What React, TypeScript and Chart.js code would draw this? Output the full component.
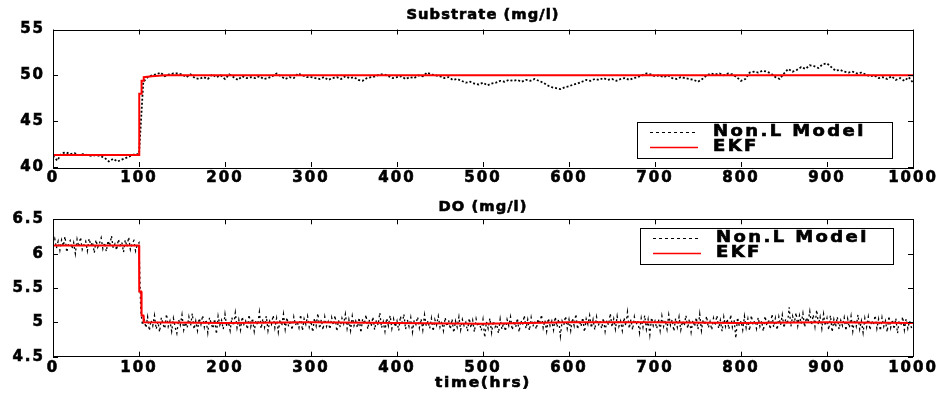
import React, { useEffect, useRef } from "react";
import { Chart, registerables } from "chart.js";
Chart.register(...registerables);

const FONT = "'DejaVu Sans', 'Liberation Sans', sans-serif";

// ---------- DATA ----------
const xMin = 0;
const xMax = 1000;
const xStep = 100;

// Substrate (mg/l) – non-linear model output, one reading every 5 hrs (0..1000)
const subStepHrs = 5;
const subModel = [
  41.2, 40.7, 41.5, 41.6, 41.4, 41.5, 41.3, 41.4, 41.3, 41.2, 41.3, 41.2, 41.0, 40.6, 40.9, 40.6, 40.8, 41.0, 41.2, 41.4, 41.4,
  49.3, 49.8, 50.0, 50.1, 50.3, 49.9, 50.1, 50.2, 50.2, 50.1, 49.8, 50.1, 49.7, 49.6, 49.8, 49.6, 50.1, 49.8, 50.0, 49.6,
  50.1, 49.8, 49.5, 49.9, 49.7, 49.8, 49.7, 49.9, 49.6, 49.7, 49.9, 50.2, 49.9, 49.6, 49.8, 49.7, 50.2, 50.0, 49.8, 49.8,
  49.7, 49.6, 49.8, 49.5, 49.7, 49.8, 49.6, 49.9, 49.7, 49.8, 49.5, 49.4, 49.7, 49.8, 49.9, 50.1, 50.1, 49.9, 49.7, 49.8,
  49.9, 49.6, 49.8, 49.7, 50.0, 49.9, 50.3, 50.1, 50.0, 49.9, 49.7, 49.8, 49.5, 49.6, 49.4, 49.2, 49.3, 49.1, 49.0, 49.2,
  48.9, 49.1, 49.2, 49.4, 49.3, 49.5, 49.4, 49.5, 49.3, 49.5, 49.4, 49.6, 49.4, 49.2, 48.9, 48.7, 48.6, 48.5, 48.7, 48.8,
  49.0, 49.1, 49.3, 49.5, 49.4, 49.6, 49.5, 49.7, 49.5, 49.6, 49.4, 49.6, 49.7, 49.5, 49.7, 49.8, 50.0, 50.2, 50.1, 49.9,
  50.0, 49.8, 50.0, 49.7, 49.6, 49.8, 49.7, 49.6, 49.5, 49.3, 49.6, 50.0, 50.2, 50.1, 50.2, 50.0, 50.2, 50.1, 49.8, 49.4,
  49.6, 50.3, 50.4, 50.3, 50.5, 50.4, 50.2, 49.8, 49.6, 50.2, 50.7, 50.4, 50.6, 50.9, 50.7, 51.1, 51.0, 50.8, 51.2, 51.3,
  50.9, 50.5, 50.6, 50.4, 50.3, 50.4, 50.2, 50.3, 50.1, 49.9, 50.0, 49.7, 49.8, 49.6, 49.9, 49.5, 49.7, 49.4, 49.8, 49.2,
];

// Substrate – EKF estimate (time, value)
const subEkfTime = [0, 100, 100.3, 102.5, 103, 105, 105.5, 115, 130, 1000];
const subEkfValue = [41.3, 41.3, 48.0, 48.0, 49.4, 49.4, 49.8, 49.9, 50.0, 50.0];

// DO (mg/l) – non-linear model output, one reading every 2 hrs (0..1000)
const doStepHrs = 2;
const doModel = [
  6.15, 6.22, 6.08, 6.18, 6.05, 6.20, 6.11, 6.25, 6.02, 6.14,
  6.19, 6.07, 6.16, 6.00, 6.21, 6.10, 6.24, 6.06, 6.13, 6.18,
  6.04, 6.22, 6.12, 6.17, 6.01, 6.20, 6.09, 6.15, 6.23, 6.07,
  6.16, 6.03, 6.19, 6.11, 6.26, 6.08, 6.14, 6.05, 6.21, 6.12,
  6.17, 6.02, 6.20, 6.10, 6.24, 6.06, 6.15, 6.19, 6.04, 6.13,
  6.16, 5.18, 4.96,
  5.05, 4.92, 5.08, 4.88, 5.03, 4.95, 5.10, 4.90, 5.01, 4.86,
  5.07, 4.97, 4.91, 5.12, 4.94, 5.02, 4.87, 5.06, 4.93, 4.84,
  5.04, 4.96, 5.11, 4.89, 5.00, 4.92, 5.08, 4.95, 5.13, 4.90,
  5.02, 4.88, 5.06, 4.97, 5.10, 4.93, 5.04, 4.85, 5.07, 4.98,
  4.91, 5.05, 4.83, 5.09, 4.96, 5.03, 4.90, 5.12, 4.94, 5.01,
  4.88, 5.07, 4.95, 5.14, 4.92, 5.04, 4.89, 5.08, 4.97, 5.02,
  4.90, 5.11, 4.94, 5.06, 4.87, 5.03, 4.96, 5.15, 4.91, 5.05,
  4.93, 5.09, 4.88, 5.02, 4.97, 5.10, 4.92, 5.06, 4.86, 5.04,
  4.95, 5.12, 4.90, 5.07, 4.94, 5.03, 4.89, 5.08, 4.96, 5.01,
  4.92, 5.11, 4.88, 5.05, 4.97, 5.09, 4.93, 5.02, 4.86, 5.06,
  4.95, 5.13, 4.91, 5.04, 4.89, 5.08, 4.94, 5.01, 4.90, 5.07,
  4.96, 5.10, 4.87, 5.03, 4.93, 5.06, 4.98, 5.12, 4.91, 5.04,
  4.88, 5.09, 4.95, 5.02, 4.92, 5.07, 4.85, 5.05, 4.97, 5.11,
  4.90, 5.04, 4.94, 5.08, 4.89, 5.03, 4.96, 5.14, 4.92, 5.01,
  4.87, 5.06, 4.95, 5.10, 4.91, 5.05, 4.93, 5.02, 4.88, 5.09,
  4.96, 5.12, 4.90, 5.04, 4.94, 5.07, 4.86, 5.03, 4.97, 5.08,
  4.92, 5.05, 4.89, 5.11, 4.95, 5.02, 4.91, 5.06, 4.87, 5.04,
  4.96, 5.09, 4.93, 5.01, 4.88, 5.07, 4.94, 5.03, 4.90, 5.05,
  4.85, 5.02, 4.93, 5.08, 4.89, 5.04, 4.95, 5.00, 4.87, 5.06,
  4.92, 5.03, 4.86, 5.05, 4.94, 4.99, 4.88, 5.04, 4.78, 5.01,
  4.91, 5.06, 4.85, 5.02, 4.93, 4.97, 4.84, 5.05, 4.90, 5.00,
  4.87, 5.04, 4.95, 5.08, 4.89, 5.02, 4.93, 5.06, 4.86, 5.03,
  4.96, 5.10, 4.91, 5.04, 4.88, 5.07, 4.94, 5.01, 4.90, 5.05,
  4.97, 5.11, 4.92, 5.03, 4.87, 5.06, 4.95, 5.02, 4.89, 5.08,
  4.93, 5.05, 4.80, 5.02, 4.96, 5.09, 4.91, 5.04, 4.88, 5.06,
  4.95, 5.12, 4.90, 5.03, 4.94, 5.07, 4.86, 5.05, 4.97, 5.10,
  4.92, 5.04, 4.89, 5.08, 4.95, 5.02, 4.91, 5.06, 4.87, 5.03,
  4.96, 5.13, 4.93, 5.05, 4.90, 5.09, 4.94, 5.02, 4.88, 5.07,
  4.95, 5.15, 4.91, 5.04, 4.89, 5.08, 4.96, 5.03, 4.85, 5.06,
  4.93, 5.10, 4.90, 5.04, 4.82, 5.07, 4.95, 5.02, 4.91, 5.05,
  4.88, 5.09, 4.94, 5.03, 4.90, 5.11, 4.96, 5.04, 4.87, 5.06,
  4.93, 5.08, 4.89, 5.02, 4.95, 5.10, 4.91, 5.05, 4.86, 5.03,
  4.94, 5.07, 4.90, 5.12, 4.88, 5.04, 4.96, 5.09, 4.92, 5.01,
  4.89, 5.06, 4.95, 5.10, 4.91, 5.03, 4.87, 5.08, 4.94, 5.05,
  4.90, 5.11, 4.93, 5.04, 4.77, 5.07, 4.95, 5.02, 4.89, 5.09,
  4.92, 5.05, 4.88, 5.10, 4.96, 5.03, 4.91, 5.07, 4.94, 5.02,
  4.87, 5.09, 4.95, 5.04, 4.90, 5.12, 4.93, 5.06, 4.89, 5.08,
  4.96, 5.11, 4.92, 5.05, 4.97, 5.22, 4.94, 5.09, 4.99, 5.14,
  4.95, 5.10, 4.98, 5.13, 4.93, 5.07, 5.00, 5.16, 4.96, 5.11,
  4.94, 5.18, 4.97, 5.08, 4.91, 5.12, 4.95, 5.06, 4.89, 5.10,
  4.86, 5.04, 4.93, 5.08, 4.90, 5.03, 4.95, 5.07, 4.88, 5.05,
  4.92, 5.09, 4.87, 5.04, 4.94, 5.11, 4.90, 5.02, 4.85, 5.06,
  4.93, 5.08, 4.89, 5.03, 4.96, 5.10, 4.91, 5.05, 4.88, 5.07,
  4.94, 5.02, 4.86, 5.09, 4.92, 5.04, 4.90, 5.06, 4.84, 5.03,
  4.95, 5.08, 4.89, 5.05, 4.91, 5.02, 4.93, 4.88,
];

// DO – EKF estimate (time, value)
const doEkfTime = [0, 100, 100.3, 102.5, 103, 105, 105.5, 200, 300, 400, 500, 600, 700, 800, 900, 1000];
const doEkfValue = [6.12, 6.12, 5.45, 5.45, 5.1, 5.1, 5.0, 4.99, 5.0, 4.99, 4.98, 5.0, 5.0, 4.99, 5.0, 4.99];

const seriesNames = ["Non.L Model", "EKF"];
const titles = ["Substrate (mg/l)", "DO (mg/l)"];
const xTitle = "time(hrs)";

// ---------- helpers ----------
function drawText(ctx: CanvasRenderingContext2D, text: string, x: number, y: number, size: number, sx: number, ls: number, align: "left" | "center") {
  ctx.save();
  ctx.font = `bold ${size}px ${FONT}`;
  (ctx as any).letterSpacing = `${ls}px`;
  ctx.textBaseline = "middle";
  ctx.textAlign = "left";
  const w = ctx.measureText(text).width * sx;
  const x0 = align === "center" ? x - w / 2 : x;
  ctx.translate(x0, y);
  ctx.scale(sx, 1);
  ctx.fillStyle = "#000";
  ctx.strokeStyle = "#000";
  ctx.lineWidth = 0.6;
  ctx.setLineDash([]);
  ctx.fillText(text, 0, 0);
  ctx.strokeText(text, 0, 0);
  ctx.restore();
}

type Extra = {
  title: string;
  titleY: number;
  legend: { x: number; y: number; w: number; h: number };
  xTitleY?: number;
};

function framePlugin(extra: Extra) {
  return {
    id: "frame",
    beforeDraw(chart: any) {
      chart.ctx.letterSpacing = "2px";
    },
    afterDraw(chart: any) {
      const ctx: CanvasRenderingContext2D = chart.ctx;
      (ctx as any).letterSpacing = "0px";
      const { left, right, top, bottom } = chart.chartArea;
      const xs = chart.scales.x;
      const ys = chart.scales.y;
      ctx.save();
      ctx.strokeStyle = "#000";
      ctx.lineWidth = 1;
      ctx.setLineDash([]);
      ctx.strokeRect(Math.round(left) + 0.5, Math.round(top) + 0.5, Math.round(right - left), Math.round(bottom - top));
      const tl = 5;
      ctx.beginPath();
      xs.ticks.forEach((t: any) => {
        const px = Math.round(xs.getPixelForValue(t.value)) + 0.5;
        ctx.moveTo(px, bottom);
        ctx.lineTo(px, bottom - tl);
        ctx.moveTo(px, top);
        ctx.lineTo(px, top + tl);
      });
      ys.ticks.forEach((t: any) => {
        const py = Math.round(ys.getPixelForValue(t.value)) + 0.5;
        ctx.moveTo(left, py);
        ctx.lineTo(left + tl, py);
        ctx.moveTo(right, py);
        ctx.lineTo(right - tl, py);
      });
      ctx.stroke();
      ctx.restore();

      // title
      drawText(ctx, extra.title, (left + right) / 2, extra.titleY, 14, 1.05, 1, "center");
      if (extra.xTitleY !== undefined) {
        drawText(ctx, xTitle, (left + right) / 2, extra.xTitleY, 14, 1.1, 1.5, "center");
      }

      // legend
      const L = extra.legend;
      ctx.save();
      ctx.fillStyle = "#fff";
      ctx.fillRect(L.x, L.y, L.w, L.h);
      ctx.strokeStyle = "#000";
      ctx.lineWidth = 1;
      ctx.setLineDash([]);
      ctx.strokeRect(L.x + 0.5, L.y + 0.5, L.w, L.h);
      const y1 = L.y + 10.5;
      const y2 = L.y + 25.5;
      const lx0 = L.x + 13;
      const lx1 = L.x + 61;
      ctx.beginPath();
      ctx.setLineDash([3, 3]);
      ctx.strokeStyle = "#000";
      ctx.lineWidth = 1;
      ctx.moveTo(lx0, y1);
      ctx.lineTo(lx1, y1);
      ctx.stroke();
      ctx.beginPath();
      ctx.setLineDash([]);
      ctx.strokeStyle = "#ff0000";
      ctx.lineWidth = 1.5;
      ctx.moveTo(lx0, y2);
      ctx.lineTo(lx1, y2);
      ctx.stroke();
      ctx.restore();
      drawText(ctx, seriesNames[0], L.x + 76, y1, 15, 1.2, 2, "left");
      drawText(ctx, seriesNames[1], L.x + 76, y2, 15, 1.2, 2, "left");
    },
  };
}

function makeConfig(opts: {
  model: { x: number; y: number }[];
  ekf: { x: number; y: number }[];
  modelWidth: number;
  modelDash: number[];
  yMin: number;
  yMax: number;
  yStep: number;
  xAxisHeight: number;
  padTop: number;
  extra: Extra;
}): any {
  const tickFont = { family: FONT, size: 15, weight: "bold" as const };
  const fmt = (v: any) => String(v);
  return {
    type: "line",
    data: {
      datasets: [
        {
          label: seriesNames[0],
          data: opts.model,
          borderColor: "#000",
          borderWidth: opts.modelWidth,
          borderDash: opts.modelDash,
          pointRadius: 0,
          tension: 0,
          order: 1,
        },
        {
          label: seriesNames[1],
          data: opts.ekf,
          borderColor: "#ff0000",
          borderWidth: 2,
          pointRadius: 0,
          tension: 0,
          order: 0,
        },
      ],
    },
    options: {
      animation: false,
      responsive: false,
      maintainAspectRatio: false,
      events: [],
      layout: { padding: { top: opts.padTop, right: 24, left: 0, bottom: 0 } },
      plugins: {
        legend: { display: false },
        title: { display: false },
        tooltip: { enabled: false },
      },
      scales: {
        x: {
          type: "linear",
          min: xMin,
          max: xMax,
          ticks: {
            stepSize: xStep,
            font: tickFont,
            color: "#000",
            padding: 2,
            maxRotation: 0,
            autoSkip: false,
            callback: fmt,
            textStrokeColor: "#000",
            textStrokeWidth: 0.6,
          },
          grid: { display: false, drawTicks: false },
          border: { display: false },
          afterFit: (s: any) => {
            s.height = opts.xAxisHeight;
          },
        },
        y: {
          type: "linear",
          min: opts.yMin,
          max: opts.yMax,
          ticks: {
            stepSize: opts.yStep,
            font: tickFont,
            color: "#000",
            padding: 8,
            callback: fmt,
            textStrokeColor: "#000",
            textStrokeWidth: 0.6,
          },
          grid: { display: false, drawTicks: false },
          border: { display: false },
          afterFit: (s: any) => {
            s.width = 53;
          },
        },
      },
    },
    plugins: [framePlugin(opts.extra)],
  };
}

export default function App() {
  const topRef = useRef<HTMLCanvasElement>(null);
  const botRef = useRef<HTMLCanvasElement>(null);

  useEffect(() => {
    const subPts = subModel.map((v, i) => ({ x: i * subStepHrs, y: v }));
    const subEkf = subEkfTime.map((t, i) => ({ x: t, y: subEkfValue[i] }));
    const doPts = doModel.map((v, i) => ({ x: i * doStepHrs, y: v }));
    const doEkf = doEkfTime.map((t, i) => ({ x: t, y: doEkfValue[i] }));

    const c1 = new Chart(
      topRef.current!,
      makeConfig({
        model: subPts,
        ekf: subEkf,
        modelWidth: 1.8,
        modelDash: [2, 2],
        yMin: 40,
        yMax: 55,
        yStep: 5,
        xAxisHeight: 27,
        padTop: 29.5,
        extra: { title: titles[0], titleY: 15, legend: { x: 637, y: 122, w: 255, h: 36 } },
      })
    );
    const c2 = new Chart(
      botRef.current!,
      makeConfig({
        model: doPts,
        ekf: doEkf,
        modelWidth: 1.3,
        modelDash: [2, 3],
        yMin: 4.5,
        yMax: 6.5,
        yStep: 0.5,
        xAxisHeight: 37.3,
        padTop: 25.3,
        extra: { title: titles[1], titleY: 13, legend: { x: 640, y: 34, w: 253, h: 36 }, xTitleY: 189 },
      })
    );
    return () => {
      c1.destroy();
      c2.destroy();
    };
  }, []);

  return (
    <div style={{ position: "absolute", left: 0, top: 0, width: 937, height: 394, background: "#fff" }}>
      <canvas ref={topRef} width={937} height={194} style={{ position: "absolute", left: 0, top: 0, width: 937, height: 194 }} />
      <canvas ref={botRef} width={937} height={200} style={{ position: "absolute", left: 0, top: 194, width: 937, height: 200 }} />
    </div>
  );
}
